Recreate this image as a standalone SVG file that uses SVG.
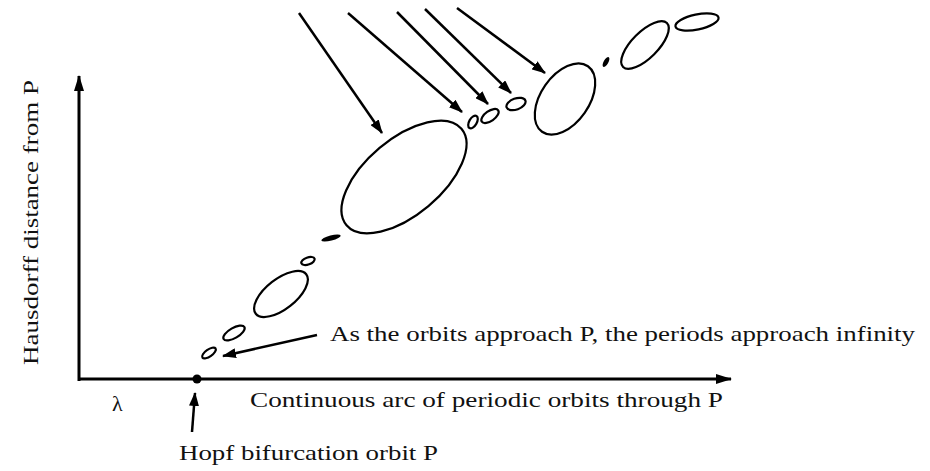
<svg xmlns="http://www.w3.org/2000/svg" width="930" height="471" viewBox="0 0 930 471">
<defs>
<style>
.t{font-family:"Liberation Serif","Times New Roman",serif;font-size:22px;fill:#111}
.ax{stroke:#000;stroke-width:3;fill:none}
.ar{stroke:#000;stroke-width:2.5;fill:none}
.orb{stroke:#000;stroke-width:2.2;fill:none}
.dash{fill:#000;stroke:none}
</style>
<marker id="ah" viewBox="0 0 14 10" refX="13" refY="5" markerWidth="14" markerHeight="10" markerUnits="userSpaceOnUse" orient="auto">
<path d="M0,0 L14,5 L0,10 Z" fill="#000"/>
</marker>
<marker id="ahx" viewBox="0 0 16 10" refX="15" refY="5" markerWidth="16" markerHeight="10" markerUnits="userSpaceOnUse" orient="auto">
<path d="M0,0 L16,5 L0,10 Z" fill="#000"/>
</marker>
</defs>
<rect width="930" height="471" fill="#fff"/>
<g id="axes">
<path class="ax" d="M79,381 L79,76" marker-end="url(#ahx)"/>
<path class="ax" d="M78,379 L731,379" marker-end="url(#ahx)"/>
</g>
<g id="labels">
<text class="t" transform="translate(38,365) rotate(-90)" textLength="285" lengthAdjust="spacingAndGlyphs">Hausdorff distance from P</text>
<text class="t" x="112" y="411">λ</text>
<text class="t" x="250" y="407" textLength="473" lengthAdjust="spacingAndGlyphs">Continuous arc of periodic orbits through P</text>
<text class="t" x="330" y="341" textLength="585" lengthAdjust="spacingAndGlyphs">As the orbits approach P, the periods approach infinity</text>
<text class="t" x="179" y="460" textLength="259" lengthAdjust="spacingAndGlyphs">Hopf bifurcation orbit P</text>
</g>
<g id="hopf-point">
<circle cx="197" cy="379" r="4.5" fill="#000"/>
</g>
<g id="orbits">
<ellipse class="orb" cx="209" cy="353" rx="8" ry="3.5" transform="rotate(-35 209 353)"/>
<ellipse class="orb" cx="234" cy="333" rx="12" ry="5" transform="rotate(-30 234 333)"/>
<ellipse class="orb" cx="281" cy="294" rx="32" ry="15" transform="rotate(-38 281 294)"/>
<ellipse class="orb" cx="308" cy="261" rx="7" ry="3.5" transform="rotate(-20 308 261)"/>
<ellipse class="dash" cx="331" cy="238" rx="10" ry="2.6" transform="rotate(-15 331 238)"/>
<ellipse class="orb" cx="404" cy="177" rx="75" ry="38" transform="rotate(-40 404 177)"/>
<ellipse class="orb" cx="473" cy="122" rx="7" ry="3.8" transform="rotate(-60 473 122)"/>
<ellipse class="orb" cx="490" cy="116" rx="10" ry="5" transform="rotate(-35 490 116)"/>
<ellipse class="orb" cx="516" cy="104" rx="10" ry="5.5" transform="rotate(-20 516 104)"/>
<ellipse class="orb" cx="565" cy="99" rx="40" ry="24" transform="rotate(-55 565 99)"/>
<ellipse class="dash" cx="606" cy="62" rx="5.5" ry="2.3" transform="rotate(-60 606 62)"/>
<ellipse class="orb" cx="645" cy="45" rx="31" ry="13" transform="rotate(-45 645 45)"/>
<ellipse class="orb" cx="697" cy="22" rx="22" ry="7.5" transform="rotate(-12 697 22)"/>
</g>
<g id="connectors">
<path class="ar" d="M299,13 L382,133" marker-end="url(#ah)"/>
<path class="ar" d="M348,13 L462,112" marker-end="url(#ah)"/>
<path class="ar" d="M397,12 L488,104" marker-end="url(#ah)"/>
<path class="ar" d="M425,9 L511,93" marker-end="url(#ah)"/>
<path class="ar" d="M457,8 L545,73" marker-end="url(#ah)"/>
<path class="ar" d="M317,335 L223,356" marker-end="url(#ah)"/>
<path class="ar" d="M192,432 L195,393" marker-end="url(#ah)"/>
</g>
</svg>
